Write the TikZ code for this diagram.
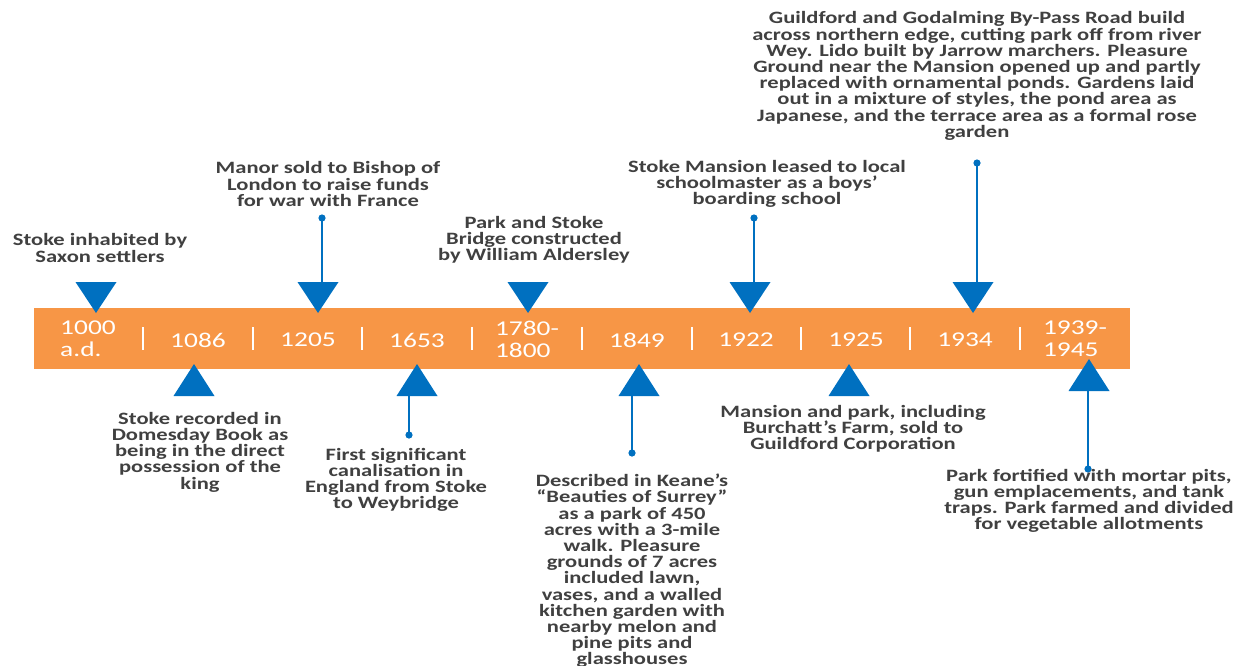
\documentclass[tikz,border=0pt]{standalone}
\usepackage{fontspec}
\setmainfont{Carlito}[FakeStretch=1.3]

\definecolor{barorange}{HTML}{F79646}
\definecolor{markblue}{HTML}{0070C0}
\definecolor{notegray}{HTML}{404040}

\tikzset{
    year/.style={text=white, font=\fontsize{15.8}{16.5}\selectfont, align=left, inner sep=0pt},
    note/.style={text=notegray, font=\bfseries\fontsize{13}{12.15}\selectfont, align=center, inner sep=0pt},
    stem/.style={markblue, line width=2.2pt},
    dot/.style={circle, fill=markblue, inner sep=0pt, minimum size=5.4pt}
}

\begin{document}
\begin{tikzpicture}[x=0.75pt, y=-0.75pt]
    \useasboundingbox (0,0) rectangle (1241,665);

    % Bar
    \fill[barorange] (34,308) rectangle (1130,369);
    \foreach \x in {143,253,362,472,582,692,801,910,1020}
        \draw[white, line width=2pt] (\x,327) -- (\x,350);

    % Years
    \node[year] (y1000) at (88,339) {1000\\a.d.};
    \node[year] (y1086) at (198,340) {1086};
    \node[year] (y1205) at (308,340) {1205};
    \node[year] (y1653) at (417,340) {1653};
    \node[year] (y1780) at (527,339) {1780-\\1800};
    \node[year] (y1849) at (637,340) {1849};
    \node[year] (y1922) at (746,340) {1922};
    \node[year] (y1925) at (856,340) {1925};
    \node[year] (y1934) at (965,340) {1934};
    \node[year] (y1939) at (1075,339) {1939-\\1945};

    % Markers above
    \fill[markblue] (75.5,282) -- (116.5,282) -- (96,313) -- cycle;
    \fill[markblue] (297.5,282) -- (338.5,282) -- (318,313) -- cycle;
    \fill[markblue] (507.5,282) -- (548.5,282) -- (528,313) -- cycle;
    \fill[markblue] (729.5,282) -- (770.5,282) -- (750,313) -- cycle;
    \fill[markblue] (952.5,282) -- (993.5,282) -- (973,313) -- cycle;
    \coordinate (t1205) at (318,283);
    \coordinate (t1922) at (750,283);
    \coordinate (t1934) at (973,283);

    % Markers below
    \fill[markblue] (173.5,396) -- (214.5,396) -- (194,364) -- cycle;
    \fill[markblue] (396.5,396) -- (437.5,396) -- (417,364) -- cycle;
    \fill[markblue] (618.5,396) -- (659.5,396) -- (639,364) -- cycle;
    \fill[markblue] (828.5,396) -- (869.5,396) -- (849,364) -- cycle;
    \fill[markblue] (1068.5,391) -- (1109.5,391) -- (1089,359) -- cycle;
    \coordinate (t1653) at (417,395);
    \coordinate (t1849) at (639,395);
    \coordinate (t1939) at (1089,390);

    % Stems
    \node[dot] (d1205) at (322,218) {};
    \node[dot] (d1922) at (754,218) {};
    \node[dot] (d1934) at (977,163) {};
    \node[dot] (d1653) at (409,435) {};
    \node[dot] (d1849) at (632,453) {};
    \node[dot] (d1939) at (1088,469) {};
    \draw[stem] (d1205.center) -- (d1205 |- t1205);
    \draw[stem] (d1922.center) -- (d1922 |- t1922);
    \draw[stem] (d1934.center) -- (d1934 |- t1934);
    \draw[stem] (d1653.center) -- (d1653 |- t1653);
    \draw[stem] (d1849.center) -- (d1849 |- t1849);
    \draw[stem] (d1939.center) -- (d1939 |- t1939);

    % Labels
    \node[note] (n1000) at (100,248) {Stoke inhabited by\\Saxon settlers};
    \node[note] (n1205) at (328,184) {Manor sold to Bishop of\\London to raise funds\\for war with France};
    \node[note] (n1780) at (534,240) {Park and Stoke\\Bridge constructed\\by William Aldersley};
    \node[note] (n1922) at (767,184) {Stoke Mansion leased to local\\schoolmaster as a boys’\\boarding school};
    \node[note] (n1934) at (977,76) {Guildford and Godalming By-Pass Road build\\across northern edge, cutting park off from river\\Wey. Lido built by Jarrow marchers. Pleasure\\Ground near the Mansion opened up and partly\\replaced with ornamental ponds. Gardens laid\\out in a mixture of styles, the pond area as\\Japanese, and the terrace area as a formal rose\\garden};
    \node[note] (n1086) at (200,452) {Stoke recorded in\\Domesday Book as\\being in the direct\\possession of the\\king};
    \node[note] (n1653) at (396,480) {First significant\\canalisation in\\England from Stoke\\to Weybridge};
    \node[note] (n1849) at (632,571) {Described in Keane’s\\“Beauties of Surrey”\\as a park of 450\\acres with a 3-mile\\walk. Pleasure\\grounds of 7 acres\\included lawn,\\vases, and a walled\\kitchen garden with\\nearby melon and\\pine pits and\\glasshouses};
    \node[note] (n1925) at (853,429) {Mansion and park, including\\Burchatt’s Farm, sold to\\Guildford Corporation};
    \node[note] (n1939) at (1089,501) {Park fortified with mortar pits,\\gun emplacements, and tank\\traps. Park farmed and divided\\for vegetable allotments};
\end{tikzpicture}
\end{document}
